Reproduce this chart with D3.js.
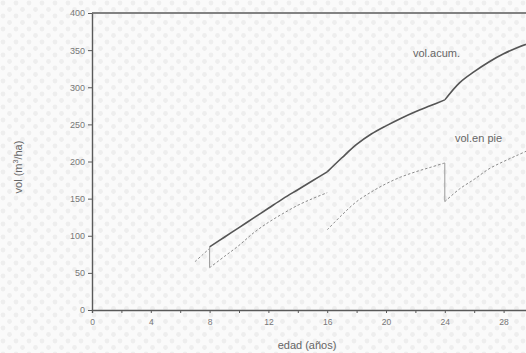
<!DOCTYPE html>
<html>
<head>
<meta charset="utf-8">
<script src="https://cdn.jsdelivr.net/npm/d3@7"></script>
<style>
  body { margin: 0; background: #fff; }
  svg { display: block; font-family: "Liberation Sans", Arial, sans-serif; }
</style>
</head>
<body>
<div id="chart"></div>
<script>
// accumulated volume (solid line)
const ageAcum = [8, 9, 10, 11, 12, 13, 14, 15, 16, 17, 18, 19, 20, 21, 22, 23, 24, 25, 26, 27, 28, 29, 30];
const volAcum = [85, 98, 111, 124, 137, 150, 162, 174, 186, 205, 223, 237, 248, 258, 267, 275, 283, 306, 321, 334, 345, 354, 361];
// thinning ages, where the accumulated curve has a kink
const thinAges = [16, 24];

// standing volume (dashed line), one segment between thinnings
const pieAges = [
  [7, 7.5, 8],
  [8, 9, 10, 11, 12, 13, 14, 15, 16],
  [16, 17, 18, 19, 20, 21, 22, 23, 24],
  [24, 25, 26, 27, 28, 29, 30]
];
const pieVols = [
  [65, 74, 83],
  [57, 72, 87, 104, 118, 130, 141, 150, 158],
  [108, 128, 146, 159, 170, 179, 186, 192, 198],
  [146, 163, 176, 190, 200, 209, 218]
];
// thinning drops drawn as vertical strokes
const cutAges = [8, 24];
const cutFrom = [85, 198];
const cutTo = [57, 146];

const xTicks = [0, 2, 4, 6, 8, 10, 12, 14, 16, 18, 20, 22, 24, 26, 28, 30];
const xLabels = [0, 4, 8, 12, 16, 20, 24, 28];
const yTicks = [0, 50, 100, 150, 200, 250, 300, 350, 400];

const width = 526, height = 353;
const marginLeft = 92, plotTop = 13, plotBottom = 310;

const svg = d3.select('#chart').append('svg')
  .attr('width', width)
  .attr('height', height);

// faint screen-dot texture of the scan
const pat = svg.append('defs').append('pattern')
  .attr('id', 'dots').attr('width', 13).attr('height', 13)
  .attr('patternUnits', 'userSpaceOnUse');
pat.append('circle').attr('cx', 3).attr('cy', 3).attr('r', 2.4).attr('fill', '#eeeeee');
pat.append('circle').attr('cx', 9.5).attr('cy', 9.5).attr('r', 2.4).attr('fill', '#eeeeee');
svg.append('rect').attr('width', width).attr('height', height).attr('fill', '#fafafa');
svg.append('rect').attr('width', width).attr('height', height).attr('fill', 'url(#dots)');

const x = d3.scaleLinear().domain([0, 30]).range([marginLeft, marginLeft + 30 * 14.7]);
const y = d3.scaleLinear().domain([0, 400]).range([plotBottom, plotTop]);

const axisColor = '#5a5a5a';

// x axis
const xAxis = svg.append('g')
  .attr('transform', 'translate(0,' + plotBottom + ')')
  .call(d3.axisBottom(x).tickValues(xTicks).tickSize(3)
    .tickFormat(d => xLabels.includes(d) ? d : ''));
xAxis.select('.domain').attr('stroke', axisColor).attr('stroke-width', 1.4);
xAxis.selectAll('.tick line').attr('stroke', axisColor);
xAxis.selectAll('.tick text').attr('fill', '#777').attr('font-size', 8.5).attr('dy', '1.1em');

// y axis
const yAxis = svg.append('g')
  .attr('transform', 'translate(' + marginLeft + ',0)')
  .call(d3.axisLeft(y).tickValues(yTicks).tickSize(4).tickSizeOuter(0));
yAxis.select('.domain').attr('stroke', axisColor).attr('stroke-width', 1.4);
yAxis.selectAll('.tick line').attr('stroke', axisColor);
yAxis.selectAll('.tick text').attr('fill', '#777').attr('font-size', 9).attr('x', -7);

// top frame line
svg.append('line')
  .attr('x1', x(0)).attr('x2', x(30))
  .attr('y1', y(400)).attr('y2', y(400))
  .attr('stroke', axisColor).attr('stroke-width', 1.6);

const line = d3.line()
  .x(d => x(d[0]))
  .y(d => y(d[1]))
  .curve(d3.curveCatmullRom.alpha(0.5));

// accumulated volume, split at the thinning kinks
const bounds = [ageAcum[0], ...thinAges, ageAcum[ageAcum.length - 1]];
const acumSegs = d3.range(bounds.length - 1).map(k =>
  ageAcum.map((a, i) => [a, volAcum[i]])
    .filter(d => d[0] >= bounds[k] && d[0] <= bounds[k + 1]));

svg.selectAll('path.acum')
  .data(acumSegs)
  .enter()
  .append('path')
  .attr('class', 'acum')
  .attr('d', line)
  .attr('fill', 'none')
  .attr('stroke', '#555')
  .attr('stroke-width', 1.6)
  .attr('stroke-linejoin', 'round');

// standing volume
pieAges.forEach((ages, s) => {
  svg.append('path')
    .datum(ages.map((a, i) => [a, pieVols[s][i]]))
    .attr('d', line)
    .attr('fill', 'none')
    .attr('stroke', '#8a8a8a')
    .attr('stroke-width', 1)
    .attr('stroke-dasharray', '2.5,2');
});

svg.selectAll('line.cut')
  .data(cutAges)
  .enter()
  .append('line')
  .attr('class', 'cut')
  .attr('x1', d => x(d)).attr('x2', d => x(d))
  .attr('y1', (d, i) => y(cutFrom[i]))
  .attr('y2', (d, i) => y(cutTo[i]))
  .attr('stroke', '#999')
  .attr('stroke-width', 1);

// series labels
svg.append('text')
  .attr('x', 413).attr('y', 57)
  .attr('font-size', 11).attr('fill', '#666')
  .text('vol.acum.');
svg.append('text')
  .attr('x', 455).attr('y', 142)
  .attr('font-size', 11).attr('fill', '#666')
  .text('vol.en pie');

// axis titles
svg.append('text')
  .attr('x', 307).attr('y', 349)
  .attr('text-anchor', 'middle')
  .attr('font-size', 11).attr('fill', '#666')
  .text('edad (años)');

const yTitle = svg.append('text')
  .attr('transform', 'translate(22,167) rotate(-90)')
  .attr('text-anchor', 'middle')
  .attr('font-size', 11).attr('fill', '#666');
yTitle.append('tspan').text('vol (m');
yTitle.append('tspan').attr('font-size', 7).attr('dy', -4).text('3');
yTitle.append('tspan').attr('dy', 4).text('/ha)');
</script>
</body>
</html>
